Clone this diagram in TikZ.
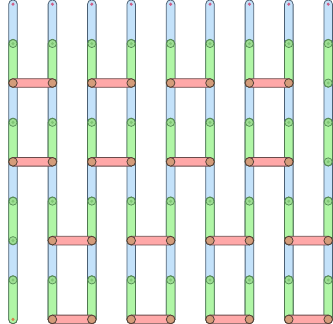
\documentclass[tikz,border=0pt]{standalone}
\begin{document}
\begin{tikzpicture}[x=1pt,y=-1pt,
  bluecap/.style={fill={rgb,255:red,196;green,226;blue,250},draw={rgb,255:red,75;green,95;blue,115},line width=0.8pt,rounded corners=4.3pt},
  greencap/.style={fill={rgb,255:red,176;green,246;blue,166},draw={rgb,255:red,80;green,120;blue,80},line width=0.8pt,rounded corners=4.3pt},
  redbar/.style={fill={rgb,255:red,255;green,168;blue,168},draw={rgb,255:red,105;green,75;blue,75},line width=0.8pt,rounded corners=4.3pt},
  gcirc/.style={fill={rgb,255:red,158;green,224;blue,148},draw={rgb,255:red,85;green,140;blue,85},line width=0.7pt},
  gdot/.style={fill={rgb,255:red,128;green,198;blue,118}},
  endc/.style={fill={rgb,255:red,212;green,156;blue,122},draw={rgb,255:red,85;green,65;blue,55},line width=0.8pt},
  pdot/.style={fill={rgb,255:red,205;green,95;blue,135}},
  odot/.style={fill={rgb,255:red,215;green,130;blue,80}}]
\useasboundingbox (0,0) rectangle (333,324);
\foreach \i in {0,...,8}
  \foreach \j in {0,...,8}
    \coordinate (p-\i-\j) at ({13+39.4*\i},{4.2+39.4*\j});
% blue columns
\foreach \i in {0,...,8}
  \path[bluecap] ([shift={(-4.3,-4.3)}]p-\i-0) rectangle ([shift={(4.3,4.3)}]p-\i-8);
% green segments
\foreach \i in {0,...,8}
  \foreach \j/\k in {1/2,3/4,5/6,7/8}
    \path[greencap] ([shift={(-4.3,-4.3)}]p-\i-\j) rectangle ([shift={(4.3,4.3)}]p-\i-\k);
% junction circles
\foreach \i in {0,...,8}
  \foreach \j in {1,...,7}
    {\path[gcirc] (p-\i-\j) circle (4);
     \path[gdot] (p-\i-\j) circle (1.7);}
% top dots
\foreach \i in {0,...,8}
  \path[pdot] (p-\i-0) circle (1.7);
\path[odot] (p-0-8) circle (1.7);
% red bars
\foreach \r in {2,4}
  \foreach \a/\b in {0/1,2/3,4/5,6/7}
    {\path[redbar] ([shift={(-4.3,-4.3)}]p-\a-\r) rectangle ([shift={(4.3,4.3)}]p-\b-\r);
     \path[endc] (p-\a-\r) circle (4.3);
     \path[endc] (p-\b-\r) circle (4.3);}
\foreach \r in {6,8}
  \foreach \a/\b in {1/2,3/4,5/6,7/8}
    {\path[redbar] ([shift={(-4.3,-4.3)}]p-\a-\r) rectangle ([shift={(4.3,4.3)}]p-\b-\r);
     \path[endc] (p-\a-\r) circle (4.3);
     \path[endc] (p-\b-\r) circle (4.3);}
\end{tikzpicture}
\end{document}
